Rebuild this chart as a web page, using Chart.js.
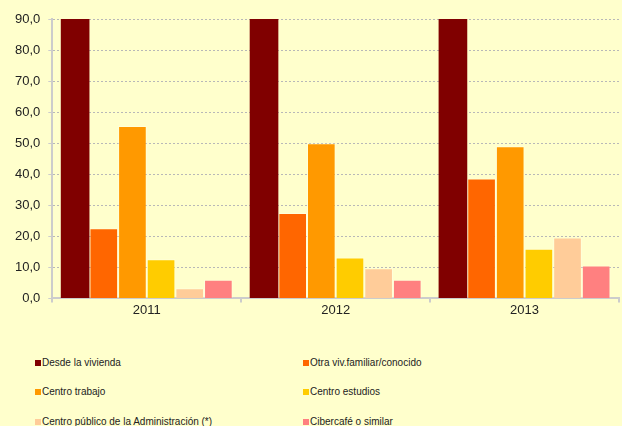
<!DOCTYPE html>
<html>
<head>
<meta charset="utf-8">
<script src="https://cdn.jsdelivr.net/npm/chart.js@4.4.1/dist/chart.umd.min.js"></script>
<style>
  html, body { margin: 0; padding: 0; background: #FFFFCC; }
  #wrap { position: relative; width: 622px; height: 426px; background: #FFFFCC; }
  #box { position: absolute; left: 0; top: 0; width: 622px; height: 330px; }
  .leg { position: absolute; font: 10px "Liberation Sans", Arial, sans-serif; color: #222; white-space: nowrap; line-height: 12px; }
  .leg span { display: inline-block; width: 6px; height: 6px; margin-right: 1px; vertical-align: 0px; }
</style>
</head>
<body>
<div id="wrap">
  <div id="box"><canvas id="myChart"></canvas></div>
</div>
<script>
// years on the x axis
const years = ['2011', '2012', '2013'];

// one series per place of access (%)
const seriesNames = [
    'Desde la vivienda',
    'Otra viv.familiar/conocido',
    'Centro trabajo',
    'Centro estudios',
    'Centro público de la Administración (*)',
    'Cibercafé o similar'
];
const desdeVivienda = [96.4, 96.6, 97.4];
const otraVivienda = [22.6, 27.5, 38.6];
const centroTrabajo = [55.5, 50.0, 49.0];
const centroEstudios = [12.6, 13.2, 16.0];
const centroPublico = [3.3, 9.7, 19.6];
const cibercafe = [6.0, 6.0, 10.6];

const colors = ['#800000', '#FF6600', '#FF9900', '#FFCC00', '#FFCC99', '#FF8080'];

// y axis ticks
const yMin = 0;
const yMax = 90;
const yStep = 10;

const seriesData = [desdeVivienda, otraVivienda, centroTrabajo, centroEstudios, centroPublico, cibercafe];

const ctx = document.getElementById('myChart').getContext('2d');
const myChart = new Chart(ctx, {
    type: 'bar',
    data: {
        labels: years,
        datasets: seriesNames.map((name, i) => ({
            label: name,
            data: seriesData[i],
            backgroundColor: colors[i],
            borderColor: 'rgba(255,255,255,0.3)',
            borderWidth: i === 0 ? 0 : 1,
            barPercentage: 1,
            categoryPercentage: 0.91
        }))
    },
    options: {
        responsive: true,
        maintainAspectRatio: false,
        animation: false,
        layout: { padding: { top: 19, left: 7, right: 3, bottom: 12 } },
        plugins: {
            legend: { display: false },
            tooltip: { enabled: false }
        },
        scales: {
            x: {
                grid: { drawOnChartArea: false, drawTicks: true, tickLength: 4, color: '#cccccc', lineWidth: 2 },
                border: { display: true, color: '#cccccc', width: 2 },
                ticks: {
                    padding: 0,
                    color: '#222',
                    font: { family: '"Liberation Sans", Arial, sans-serif', size: 13 }
                }
            },
            y: {
                min: yMin,
                max: yMax,
                grid: { color: '#b8b8b8', lineWidth: 1, tickLength: 4, tickColor: '#cccccc', tickBorderDash: [] },
                border: { display: true, color: '#cccccc', width: 2, dash: [2, 2] },
                ticks: {
                    stepSize: yStep,
                    padding: 8,
                    color: '#222',
                    font: { family: '"Liberation Sans", Arial, sans-serif', size: 13 },
                    callback: v => v.toFixed(1).replace('.', ',')
                }
            }
        }
    }
});

// legend in two columns below the chart
const wrap = document.getElementById('wrap');
seriesNames.forEach((name, i) => {
    const el = document.createElement('div');
    el.className = 'leg';
    el.style.left = (i % 2 === 0 ? 35 : 303) + 'px';
    el.style.top = (357 + Math.floor(i / 2) * 29.4) + 'px';
    el.innerHTML = '<span style="background:' + colors[i] + '"></span>' + name;
    wrap.appendChild(el);
});
</script>
</body>
</html>
